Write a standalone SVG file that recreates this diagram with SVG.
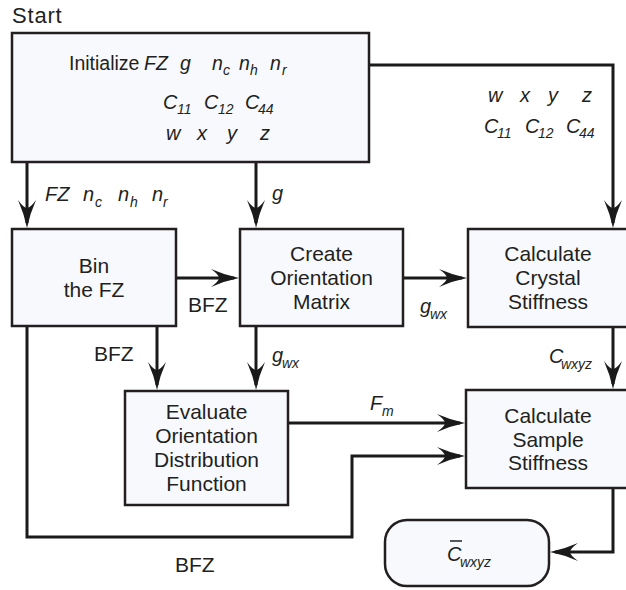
<svg xmlns="http://www.w3.org/2000/svg" width="626" height="590" viewBox="0 0 626 590">
<defs>
<style>
.box{fill:#f7f9fd;stroke:#231f20;stroke-width:2.5}
.con{fill:none;stroke:#1a1a1a;stroke-width:3;marker-end:url(#ah)}
text{font-family:"Liberation Sans",Arial,sans-serif;fill:#231f20}
.t{font-size:21px;text-anchor:middle}
.lb{font-size:21px}
.v{font-size:20px;font-style:italic}
.s{font-size:14px;font-style:italic}
</style>
<marker id="ah" markerUnits="userSpaceOnUse" viewBox="-30 -11 32 22" markerWidth="32" markerHeight="22" refX="-5" refY="0" orient="auto">
<path d="M0,0 Q-14,-2.8 -28,-9 Q-20,-3.2 -20,0 Q-20,3.2 -28,9 Q-14,2.8 0,0 Z" fill="#1a1a1a"/>
</marker>
</defs>
<rect width="626" height="590" fill="#ffffff"/>
<text x="12" y="23" style="font-size:22px;letter-spacing:0.8px">Start</text>

<g id="connectors">
<path class="con" d="M27,162 V223"/>
<path class="con" d="M256,162 V223"/>
<path class="con" d="M369,65 H613 V223"/>
<path class="con" d="M176,278 H234"/>
<path class="con" d="M403,278 H462"/>
<path class="con" d="M157,326 V385"/>
<path class="con" d="M256,326 V385"/>
<path class="con" d="M613,327 V384"/>
<path class="con" d="M288,423 H460"/>
<path class="con" d="M27,326 V537 H352 V456 H460"/>
<path class="con" d="M613,488 V552 H555"/>
</g>

<g id="labels">
<text class="v" y="201"><tspan x="45">FZ</tspan><tspan x="83">n</tspan><tspan x="95" dy="6" class="s">c</tspan><tspan x="118" dy="-6">n</tspan><tspan x="130" dy="6" class="s">h</tspan><tspan x="152" dy="-6">n</tspan><tspan x="163" dy="6" class="s">r</tspan></text>
<text class="v" x="272" y="200">g</text>
<text class="v" y="102"><tspan x="488">w</tspan><tspan x="520">x</tspan><tspan x="548">y</tspan><tspan x="582">z</tspan></text>
<text class="v" y="133"><tspan x="484">C</tspan><tspan x="497" dy="5" class="s">11</tspan><tspan x="525" dy="-5">C</tspan><tspan x="538" dy="5" class="s">12</tspan><tspan x="566" dy="-5">C</tspan><tspan x="579" dy="5" class="s">44</tspan></text>
<text class="lb" x="188" y="312">BFZ</text>
<text class="v" x="420" y="313">g<tspan x="430" dy="6" class="s">wx</tspan></text>
<text class="lb" x="94" y="361">BFZ</text>
<text class="v" x="272" y="362">g<tspan x="282" dy="6" class="s">wx</tspan></text>
<text class="v" x="549" y="363">C<tspan x="561" dy="6" class="s">wxyz</tspan></text>
<text class="v" x="370" y="410">F<tspan x="382" dy="6" class="s">m</tspan></text>
<text class="lb" x="175" y="572">BFZ</text>
</g>

<g id="init">
<rect class="box" x="12" y="33" width="357" height="129"/>
<text y="70" style="font-size:19.5px"><tspan x="69">Initialize</tspan><tspan x="144" font-style="italic">FZ</tspan><tspan x="180" font-style="italic">g</tspan><tspan x="212" font-style="italic">n</tspan><tspan x="223" dy="5" class="s">c</tspan><tspan x="239" dy="-5" font-style="italic">n</tspan><tspan x="250" dy="5" class="s">h</tspan><tspan x="270" dy="-5" font-style="italic">n</tspan><tspan x="282" dy="5" class="s">r</tspan></text>
<text class="v" y="109"><tspan x="163">C</tspan><tspan x="177" dy="5" class="s">11</tspan><tspan x="204" dy="-5">C</tspan><tspan x="218" dy="5" class="s">12</tspan><tspan x="245" dy="-5">C</tspan><tspan x="258" dy="5" class="s">44</tspan></text>
<text class="v" y="140"><tspan x="166">w</tspan><tspan x="197">x</tspan><tspan x="227">y</tspan><tspan x="260">z</tspan></text>
</g>

<g id="bin">
<rect class="box" x="12" y="229" width="164" height="97"/>
<text class="t" x="94" y="273">Bin</text>
<text class="t" x="94" y="297">the FZ</text>
</g>

<g id="create">
<rect class="box" x="240" y="229" width="163" height="97"/>
<text class="t" x="321.5" y="261">Create</text>
<text class="t" x="321.5" y="285">Orientation</text>
<text class="t" x="321.5" y="309">Matrix</text>
</g>

<g id="crystal">
<rect class="box" x="468" y="229" width="165" height="98"/>
<text class="t" x="548" y="261">Calculate</text>
<text class="t" x="548" y="285">Crystal</text>
<text class="t" x="548" y="309">Stiffness</text>
</g>

<g id="evaluate">
<rect class="box" x="125" y="391" width="163" height="114"/>
<text class="t" x="206.5" y="419">Evaluate</text>
<text class="t" x="206.5" y="443">Orientation</text>
<text class="t" x="206.5" y="467">Distribution</text>
<text class="t" x="206.5" y="491">Function</text>
</g>

<g id="sample">
<rect class="box" x="466" y="390" width="167" height="98"/>
<text class="t" x="548" y="423">Calculate</text>
<text class="t" x="548" y="447">Sample</text>
<text class="t" x="548" y="470">Stiffness</text>
</g>

<g id="output">
<rect class="box" x="385" y="520" width="164" height="66" rx="22" ry="22"/>
<text class="v" x="447" y="561">C<tspan x="460" dy="6" class="s">wxyz</tspan></text>
<line x1="450" y1="541" x2="462" y2="541" stroke="#231f20" stroke-width="1.5"/>
</g>
</svg>
